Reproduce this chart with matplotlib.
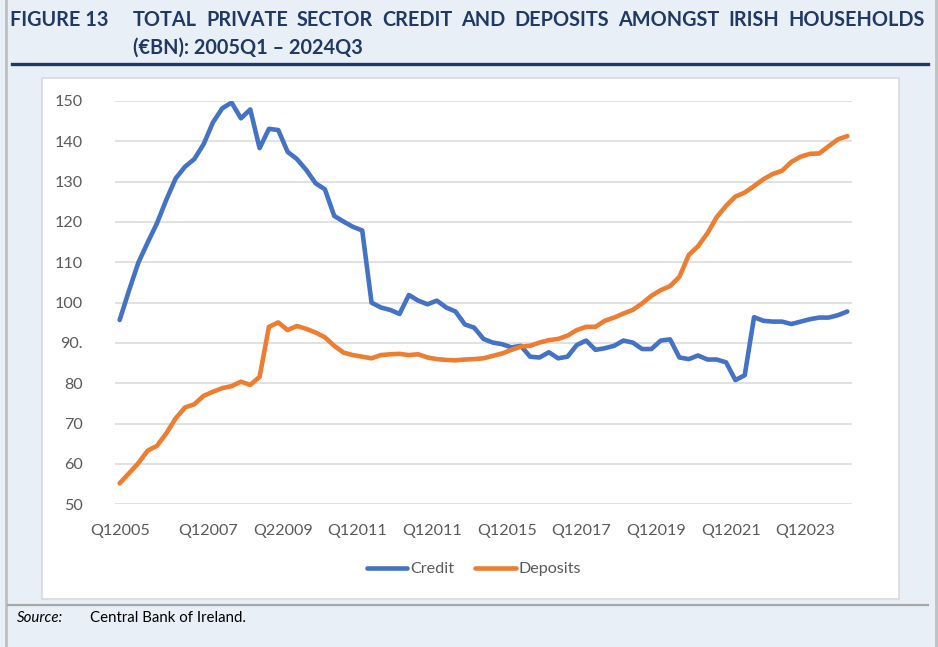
import matplotlib
matplotlib.use('Agg')
import matplotlib.pyplot as plt
from matplotlib.patches import Rectangle
from matplotlib.lines import Line2D

# %% Dados (leitura aproximada do gráfico, €bn, 2005Q1 - 2024Q3)
credit = [95.7, 103.0, 109.9, 114.9, 119.7, 125.5, 130.8, 133.7, 135.6, 139.3,
          144.7, 148.2, 149.6, 145.7, 147.9, 138.3, 143.1, 142.8, 137.4, 135.6,
          132.9, 129.6, 128.1, 121.5, 120.1, 118.8, 117.9, 100.0, 98.8, 98.2,
          97.2, 101.9, 100.5, 99.6, 100.5, 98.8, 97.8, 94.6, 93.8, 91.0,
          90.1, 89.7, 88.9, 89.3, 86.6, 86.4, 87.7, 86.2, 86.6, 89.5,
          90.6, 88.3, 88.7, 89.3, 90.6, 90.1, 88.5, 88.5, 90.6, 90.9,
          86.4, 86.0, 86.9, 85.9, 85.9, 85.2, 80.8, 82.0, 96.4, 95.5,
          95.3, 95.3, 94.7, 95.3, 95.9, 96.3, 96.3, 96.9, 97.8]
deposits = [55.2, 57.7, 60.2, 63.3, 64.5, 67.6, 71.3, 74.0, 74.8, 76.9,
            77.9, 78.8, 79.3, 80.4, 79.6, 81.6, 94.0, 95.1, 93.2, 94.2,
            93.5, 92.6, 91.4, 89.3, 87.6, 87.0, 86.6, 86.2, 87.0, 87.2,
            87.3, 87.0, 87.2, 86.4, 86.0, 85.8, 85.7, 85.9, 86.0, 86.2,
            86.8, 87.4, 88.3, 89.1, 89.3, 90.1, 90.7, 91.0, 91.8, 93.2,
            94.0, 94.0, 95.5, 96.3, 97.3, 98.2, 99.8, 101.7, 103.1, 104.1,
            106.4, 111.8, 114.0, 117.2, 121.2, 124.0, 126.3, 127.3, 128.9, 130.6,
            131.9, 132.7, 134.9, 136.2, 136.9, 137.0, 138.8, 140.5, 141.3]
xlabels = ['Q12005', 'Q12007', 'Q22009', 'Q12011', 'Q12011', 'Q12015',
           'Q12017', 'Q12019', 'Q12021', 'Q12023']
yticks = [50, 60, 70, 80, 90, 100, 110, 120, 130, 140, 150]
ylabels = ['50', '60', '70', '80', '90.', '100', '110', '120', '130', '140', '150']

W, H = 938, 647
FONT = ['Lato', 'DejaVu Sans']
NAVY = '#1F3864'
CINZA = '#595959'

plt.rcParams['font.family'] = FONT

fig = plt.figure(figsize=(W / 100, H / 100), dpi=100, facecolor='#E9EFF7')

def px(x, y):
    return x / W, 1 - y / H

# moldura / linhas do layout (atrás dos eixos)
fig.add_artist(Line2D([6 / W, 6 / W], [0, 1], color='#BFBFBF', lw=2, zorder=-2))
fig.add_artist(Line2D([936 / W, 936 / W], [0, 1], color='#BFBFBF', lw=2, zorder=-2))
fig.add_artist(Line2D([12 / W, 928 / W], [1 - 64 / H] * 2, color='#203864', lw=2.4, zorder=-2))
fig.add_artist(Line2D([8 / W, 928 / W], [1 - 604.5 / H] * 2, color='#A6A6A6', lw=1.6, zorder=-2))
fig.add_artist(Rectangle(px(42, 599), (899 - 42) / W, (599 - 78) / H,
                         facecolor='white', edgecolor='#D9D9D9', lw=1.2, zorder=-1))

# título
fig.text(*px(10, 20.5), 'FIGURE 13', fontsize=14.3, fontweight='bold', color=NAVY,
         va='center', ha='left')

renderer = fig.canvas.get_renderer()
words = 'TOTAL PRIVATE SECTOR CREDIT AND DEPOSITS AMONGST IRISH HOUSEHOLDS'.split()
txts = [fig.text(0, 1 - 20.5 / H, w, fontsize=14.3, fontweight='bold', color=NAVY,
                 va='center', ha='left') for w in words]
larg = [t.get_window_extent(renderer).width for t in txts]
x0, x1 = 133, 925
gap = (x1 - x0 - sum(larg)) / (len(words) - 1)
x = x0
for t, w in zip(txts, larg):
    t.set_x(x / W)
    x += w + gap
fig.text(*px(133, 47.5), '(€BN): 2005Q1 – 2024Q3', fontsize=14.3, fontweight='bold',
         color=NAVY, va='center', ha='left')

# gráfico
ax = fig.add_axes([115 / W, 1 - 504.3 / H, (852 - 115) / W, (504.3 - 101) / H])
ax.set_facecolor('none')
xs = range(len(credit))
ax.plot(xs, credit, color='#4472C4', lw=3.3, solid_capstyle='round',
        solid_joinstyle='round', label='Credit', zorder=3)
ax.plot(xs, deposits, color='#ED7D31', lw=3.3, solid_capstyle='round',
        solid_joinstyle='round', label='Deposits', zorder=3)

ax.set_xlim(-0.5, len(credit) - 0.5)
ax.set_ylim(50, 150)
ax.set_yticks(yticks)
ax.set_yticklabels(ylabels)
ax.set_xticks([0] + [9.5 + 8 * k for k in range(len(xlabels) - 1)])
ax.set_xticklabels(xlabels)
ax.grid(axis='y', color='#D9D9D9', lw=1.1)
ax.set_axisbelow(True)
for s in ax.spines.values():
    s.set_visible(False)
ax.tick_params(axis='both', length=0, labelsize=11.6, labelcolor=CINZA)
ax.tick_params(axis='y', pad=23)
ax.tick_params(axis='x', pad=14)

fig.legend(loc='center', bbox_to_anchor=(474 / W, 1 - 569 / H), ncol=2,
           frameon=False, fontsize=11.6, labelcolor=CINZA, handlelength=2.5,
           handletextpad=0.2, columnspacing=1.3)

# fonte
fig.text(*px(17, 618), 'Source:', fontsize=10.8, style='italic', va='center', ha='left')
fig.text(*px(90, 618), 'Central Bank of Ireland.', fontsize=10.8, va='center', ha='left')

plt.savefig('out.png', dpi=100, facecolor=fig.get_facecolor())
